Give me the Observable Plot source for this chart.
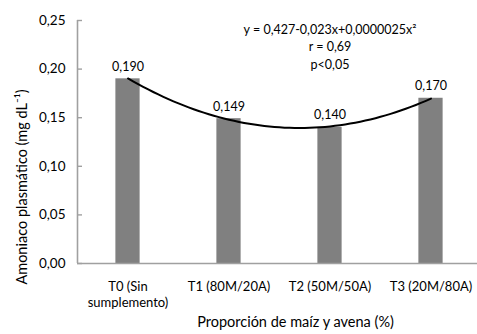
<!DOCTYPE html>
<html>
<head>
<meta charset="utf-8">
<script src="https://cdn.jsdelivr.net/npm/d3@7"></script>
<script src="https://cdn.jsdelivr.net/npm/@observablehq/plot@0.6"></script>
<style>
  html, body { margin: 0; padding: 0; background: #fff; }
  #chart svg { display: block; }
</style>
</head>
<body>
<div id="chart"></div>
<script>
const categories = ["T0 (Sin\nsumplemento)", "T1 (80M/20A)", "T2 (50M/50A)", "T3 (20M/80A)"];
const positions = [1, 2, 3, 4];
const values = [0.190, 0.149, 0.140, 0.170];
const yTicks = [0, 0.05, 0.10, 0.15, 0.20, 0.25];
const equationText = "y = 0,427-0,023x+0,0000025x²\nr = 0,69\np<0,05";
const yLabel = "Amoniaco plasmático (mg dL⁻¹)";
const xLabel = "Proporción de maíz y avena (%)";

const data = positions.map((x, i) => ({x, y: values[i], label: categories[i]}));

// Least-squares quadratic trendline (like Excel's polynomial trendline) fitted to the bar values
function quadFit(xs, ys) {
  const n = xs.length;
  let S = [0,0,0,0,0], T = [0,0,0];
  for (let i = 0; i < n; i++) {
    const x = xs[i], y = ys[i];
    for (let k = 0; k < 5; k++) S[k] += Math.pow(x, k);
    for (let k = 0; k < 3; k++) T[k] += y * Math.pow(x, k);
  }
  const A = [[S[0],S[1],S[2],T[0]],[S[1],S[2],S[3],T[1]],[S[2],S[3],S[4],T[2]]];
  for (let c = 0; c < 3; c++) {
    for (let r = c + 1; r < 3; r++) {
      const f = A[r][c] / A[c][c];
      for (let k = c; k < 4; k++) A[r][k] -= f * A[c][k];
    }
  }
  const b = [0,0,0];
  for (let r = 2; r >= 0; r--) {
    let s = A[r][3];
    for (let k = r + 1; k < 3; k++) s -= A[r][k] * b[k];
    b[r] = s / A[r][r];
  }
  return b;
}
const coef = quadFit(positions, values);
const xs0 = d3.min(positions), xs1 = d3.max(positions);
const trend = d3.range(0, 61).map(i => {
  const x = xs0 + (xs1 - xs0) * i / 60;
  return {x, y: coef[0] + coef[1] * x + coef[2] * x * x};
});

const fmt2 = d => d.toFixed(2).replace(".", ",");
const fmt3 = d => d.toFixed(3).replace(".", ",");
const font = "Lato, 'Open Sans', sans-serif";
const axisColor = "#a0a0a0";

const chart = Plot.plot({
  width: 477,
  height: 334,
  marginLeft: 77,
  marginRight: 0,
  marginTop: 20,
  marginBottom: 71,
  style: {fontFamily: font, fontSize: "13px", color: "#000", background: "#fff", overflow: "hidden"},
  x: {domain: [0.5, 4.5], range: [77, 481]},
  y: {domain: [0, 0.25], range: [263, 20]},
  marks: [
    Plot.rectY(data, {x1: d => d.x - 0.12, x2: d => d.x + 0.12, y1: 0, y2: "y", fill: "#808080"}),
    Plot.ruleY([0], {stroke: axisColor, strokeWidth: 1.6}),
    Plot.ruleX([0.5], {y1: 0, y2: 0.25, stroke: axisColor, strokeWidth: 1.6}),
    Plot.axisY({ticks: yTicks, tickSize: 5, dx: 5, stroke: axisColor, strokeWidth: 1.4, text: null, label: null}),
    Plot.axisY({ticks: yTicks, tickSize: 0, tickPadding: 12, tickFormat: fmt2, fontSize: 13.5, label: null}),
    Plot.axisX({ticks: positions, tickSize: 0, tickPadding: 15, tickFormat: (d, i) => categories[i], fontSize: 13, lineHeight: 1.3, label: null}),
    Plot.line(trend, {x: "x", y: "y", stroke: "#000", strokeWidth: 2}),
    Plot.text(data, {x: "x", y: "y", text: d => fmt3(d.y), dy: -12, fontSize: 12.5, fill: "#000"}),
    Plot.text([equationText], {x: 3, frameAnchor: "top", text: d => d, lineAnchor: "top", dy: 1, fontSize: 12.5, lineHeight: 1.4, fill: "#000"}),
    Plot.text([xLabel], {frameAnchor: "bottom", text: d => d, dx: 18, dy: 63, fontSize: 14.5, fill: "#000"}),
    Plot.text([yLabel], {frameAnchor: "left", textAnchor: "middle", text: d => d, rotate: -90, dx: -55, dy: 45, fontSize: 14.5, fill: "#000", style: "letter-spacing: 1px"})
  ]
});
document.getElementById("chart").appendChild(chart);
</script>
</body>
</html>
